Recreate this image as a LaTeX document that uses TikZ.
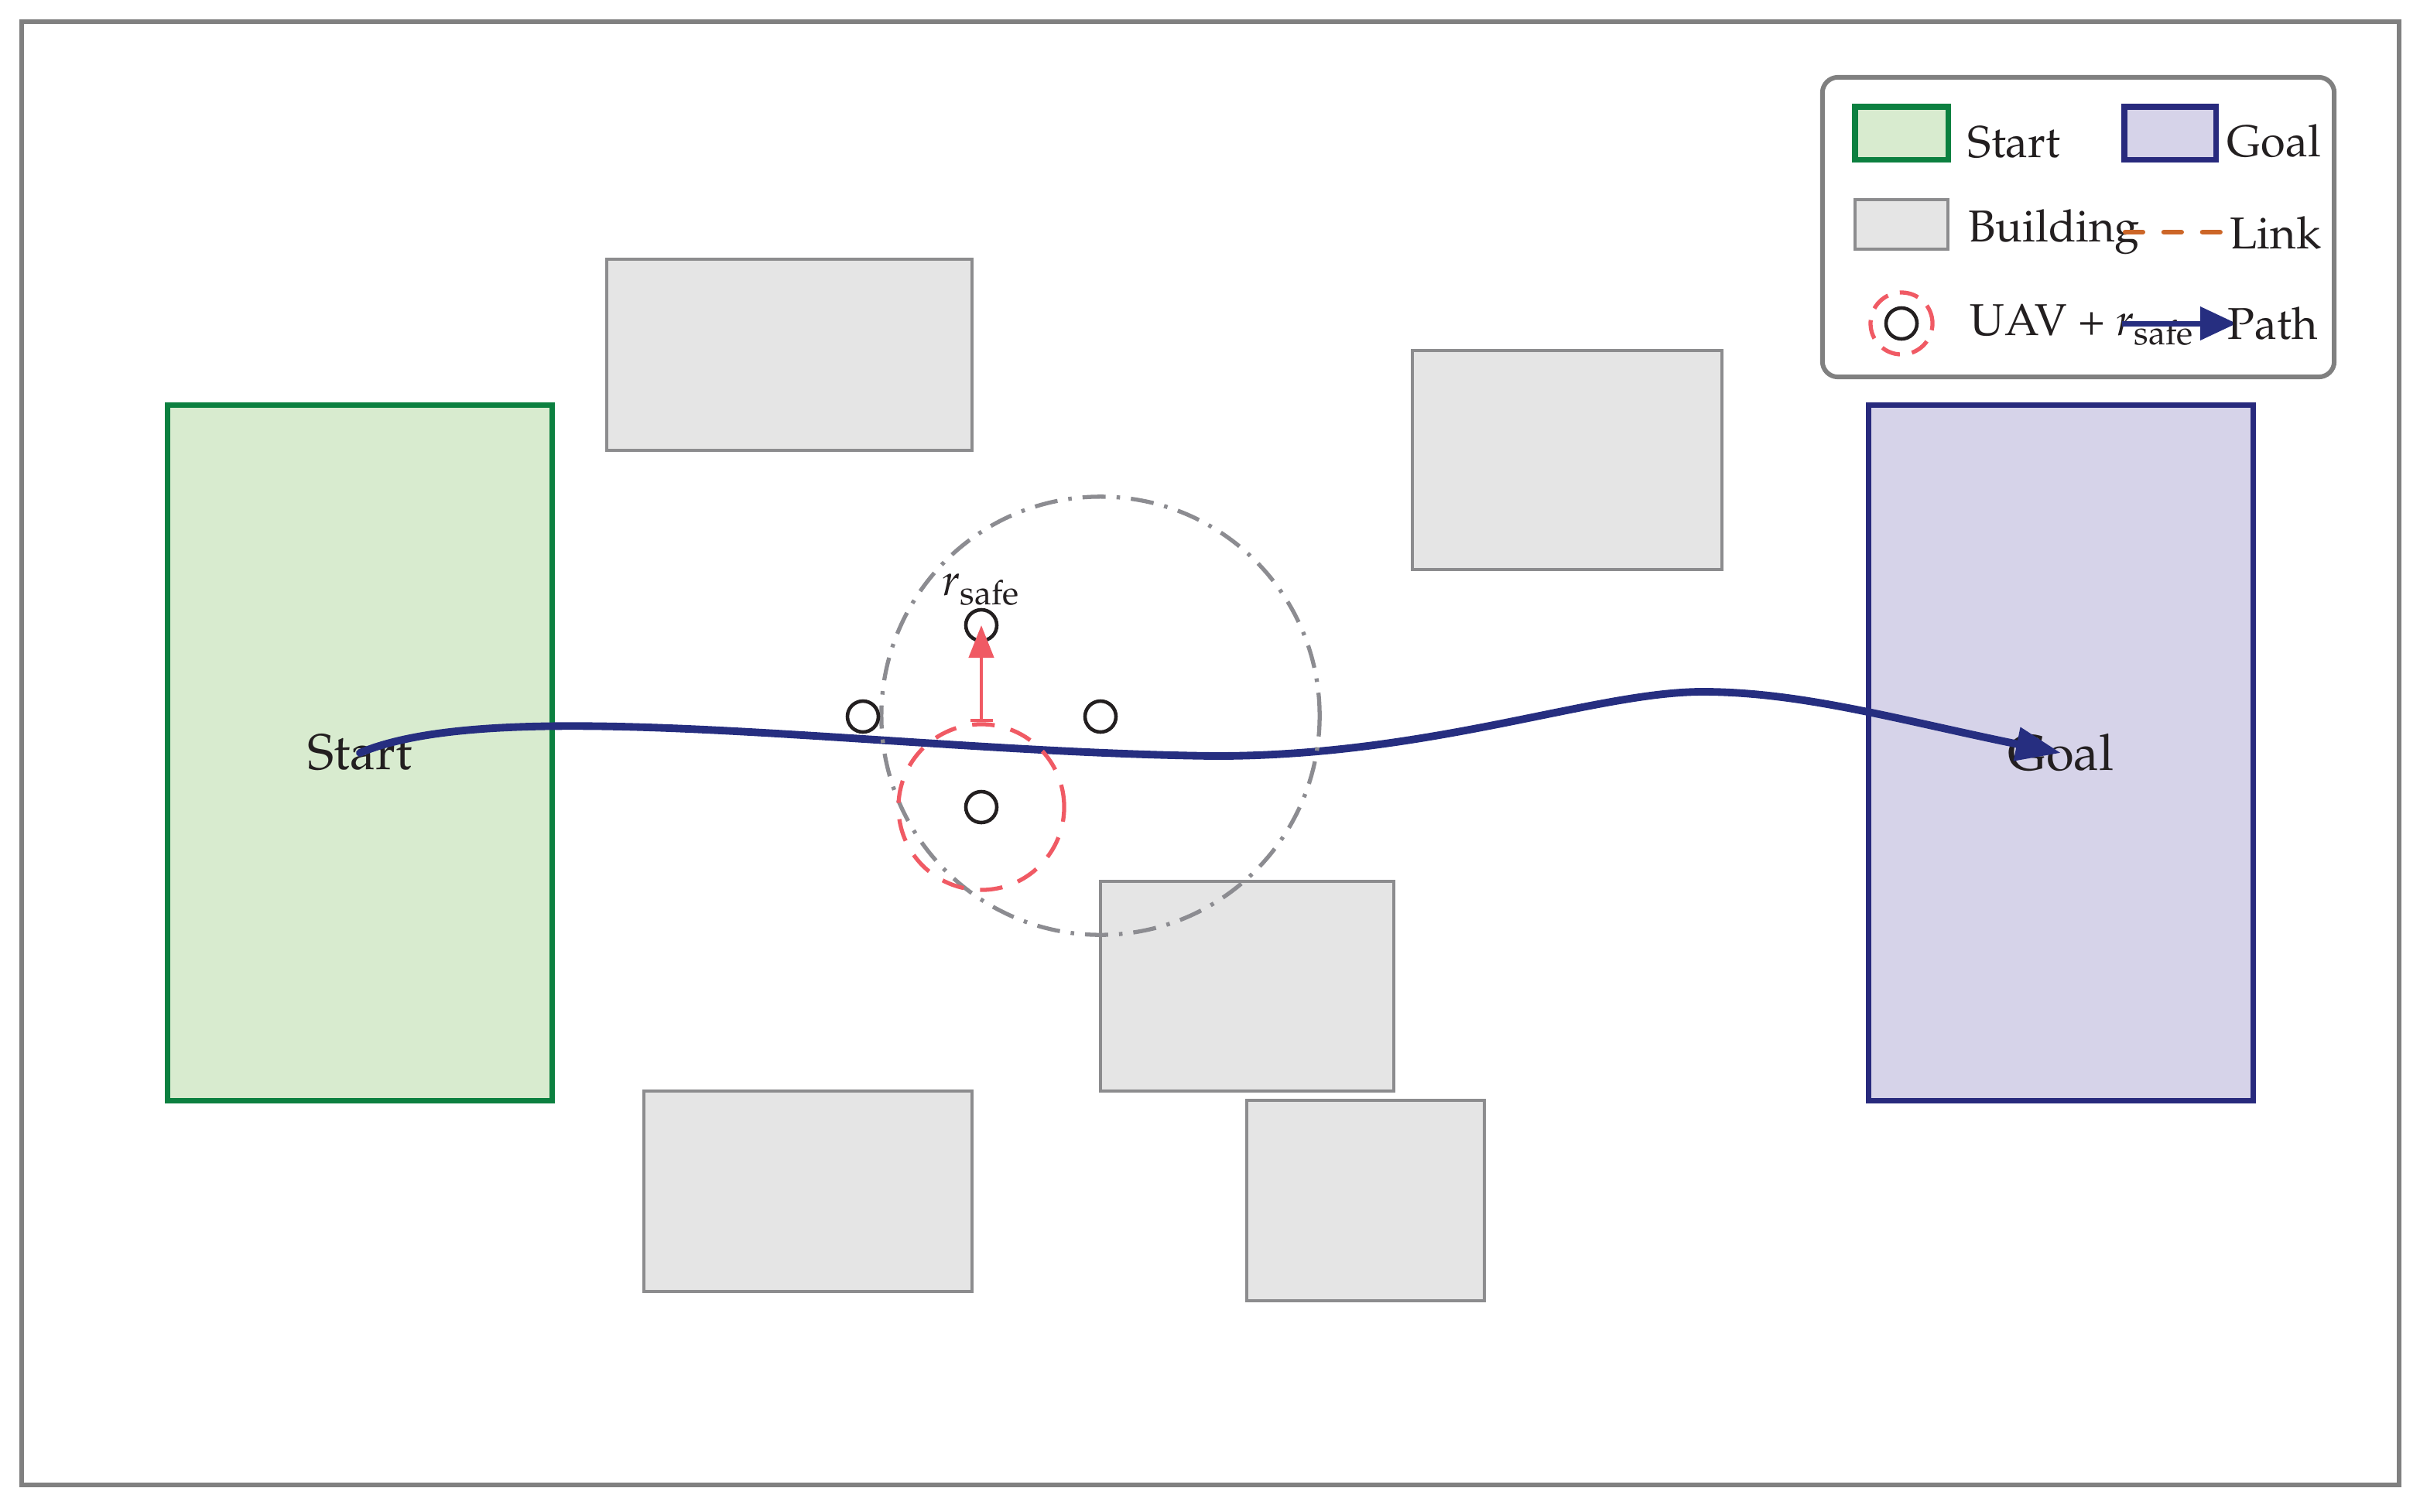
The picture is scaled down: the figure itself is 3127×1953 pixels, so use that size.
\documentclass[tikz,border=0pt]{standalone}
\usepackage[T1]{fontenc}
\usepackage{mathpazo}
\usetikzlibrary{arrows.meta}
\definecolor{startfill}{RGB}{216,235,207}
\definecolor{startdraw}{RGB}{12,128,64}
\definecolor{goalfill}{RGB}{214,211,233}
\definecolor{goaldraw}{RGB}{40,42,125}
\definecolor{pathcol}{RGB}{38,46,128}
\definecolor{bldfill}{RGB}{229,229,229}
\definecolor{blddraw}{RGB}{140,140,142}
\definecolor{framecol}{RGB}{128,128,128}
\definecolor{linkcol}{RGB}{204,102,40}
\definecolor{safecol}{RGB}{240,90,100}
\definecolor{ringcol}{RGB}{140,140,145}
\definecolor{txtcol}{RGB}{35,31,32}
\tikzset{
  startbox/.style={rectangle, draw=startdraw, fill=startfill, line width=2pt, inner sep=0pt},
  goalbox/.style={rectangle, draw=goaldraw, fill=goalfill, line width=2pt, inner sep=0pt},
  bldbox/.style={rectangle, draw=blddraw, fill=bldfill, line width=1.15pt, inner sep=0pt},
  bigtext/.style={font=\fontsize{18.5}{22}\selectfont, text=txtcol},
  legtext/.style={font=\fontsize{16.4}{20}\selectfont, text=txtcol, inner sep=0pt},
  uav/.style={circle, draw=txtcol, line width=1.3pt, inner sep=0pt, minimum size=0.4cm},
  safering/.style={circle, draw=safecol, line width=1.5pt, inner sep=0pt, dash pattern=on 8.3pt off 6pt},
  bigring/.style={circle, draw=ringcol, line width=1.5pt, inner sep=0pt, dash pattern=on 8.5pt off 4pt on 1.3pt off 4pt},
  uavpath/.style={draw=pathcol, line width=2.8pt, line cap=round},
  safearrow/.style={draw=safecol, line width=1.3pt, {Bar[width=0.29cm]}-{Triangle[length=0.42cm,width=0.32cm]}},
  linkline/.style={draw=linkcol, line width=1.8pt, line cap=round, dash pattern=on 6.5pt off 7.7pt},
  legbox/.style={rectangle, draw=framecol, fill=white, line width=1.7pt, rounded corners=0.2cm, inner sep=0pt}
}
\begin{document}
\begin{tikzpicture}[x=0.01cm, y=-0.01cm]
\useasboundingbox (0,0) rectangle (3127,1953);
\draw[framecol, line width=1.7pt] (28,28) rectangle (3100,1919);

% start and goal regions
\node[startbox, bigtext, minimum width=4.96cm, minimum height=8.98cm] (start) at (465,973) {Start};
\node[goalbox, bigtext, minimum width=4.96cm, minimum height=8.98cm] (goal) at (2663,973) {Goal};

% buildings
\node[bldbox, minimum width=4.72cm, minimum height=2.47cm] (b1) at (1020,458.5) {};
\node[bldbox, minimum width=4.00cm, minimum height=2.83cm] (b2) at (2025,594.5) {};
\node[bldbox, minimum width=3.79cm, minimum height=2.71cm] (b3) at (1611.5,1274.5) {};
\node[bldbox, minimum width=4.24cm, minimum height=2.59cm] (b4) at (1044,1539.5) {};
\node[bldbox, minimum width=3.07cm, minimum height=2.59cm] (b5) at (1764.5,1551.5) {};

% path
\draw[uavpath, -{Triangle[length=0.58cm,width=0.42cm]}] (start.center)
  .. controls (650,895) and (1150,972) .. (1570,977)
  .. controls (1850,977) and (2060,894) .. (2200,894)
  .. controls (2330,894) and (2460,932) .. (goal.center);

% safety ring
\node[bigring, minimum size=5.66cm] (zone) at (1422,925) {};
\node[safering, minimum size=2.14cm] (ring) at (1268,1043) {};

% UAVs
\node[uav] (ut) at (1268,808) {};
\node[uav] (ul) at (1115,926) {};
\node[uav] (ur) at (1422,926) {};
\node[uav] (ub) at (1268,1043) {};
\draw[safearrow] (ring.north) -- (ut.center);
\node[legtext, anchor=south] (rlabel) at (1268,783) {$r_{\mathrm{safe}}$};

% legend
\node[legbox, minimum width=6.61cm, minimum height=3.87cm] (legend) at (2685.5,293.5) {};
\node[startbox, minimum width=1.20cm, minimum height=0.68cm] (lstart) at (2457,172) {};
\node[legtext, anchor=base west] (lstartt) at (2542,203) {Start};
\node[goalbox, minimum width=1.18cm, minimum height=0.68cm] (lgoal) at (2804,172) {};
\node[legtext, anchor=base west] (lgoalt) at (2877,202) {Goal};
\node[bldbox, minimum width=1.20cm, minimum height=0.64cm] (lbld) at (2457,290) {};
\node[legtext, anchor=base west] (lbldt) at (2543,312) {Building};
\coordinate (la) at (2746,300);
\coordinate (lb) at (2869,300);
\draw[linkline] (la) -- (lb);
\node[legtext, anchor=base west] (llinkt) at (2881,321) {Link};
\node[safering, minimum size=0.8cm, dash pattern=on 7pt off 4.5pt] (lring) at (2457,418) {};
\node[uav] (luav) at (2457,418) {};
\node[legtext, anchor=base west] (luavt) at (2545,433) {UAV + $r_{\mathrm{safe}}$};
\coordinate (pa) at (2742,418);
\coordinate (pb) at (2890,418);
\draw[uavpath, line width=2pt, line cap=butt, -{Triangle[length=0.47cm,width=0.42cm]}] (pa) -- (pb);
\node[legtext, anchor=base west] (lpatht) at (2878,438) {Path};
\end{tikzpicture}
\end{document}
